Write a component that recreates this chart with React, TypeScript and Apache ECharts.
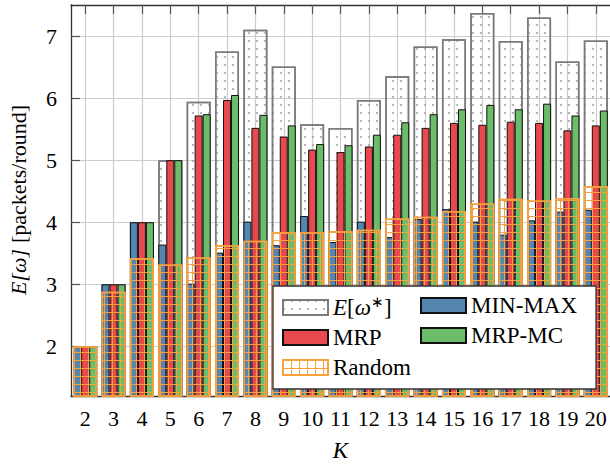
import React, { useEffect, useRef } from "react";
import * as echarts from "echarts";

const categories = ["2","3","4","5","6","7","8","9","10","11","12","13","14","15","16","17","18","19","20"];
const optimal = [2, 3, 4, 5, 5.94, 6.75, 7.10, 6.51, 5.58, 5.52, 5.97, 6.35, 6.83, 6.95, 7.37, 6.92, 7.30, 6.59, 6.93];
const minMax = [2, 3, 4, 3.64, 3.01, 3.51, 4.01, 3.63, 4.10, 3.68, 4.01, 3.76, 4.05, 4.21, 4.01, 3.80, 4.03, 4.17, 4.20];
const mrp = [2, 3, 4, 5, 5.72, 5.97, 5.52, 5.38, 5.17, 5.13, 5.22, 5.41, 5.52, 5.60, 5.57, 5.62, 5.60, 5.48, 5.56];
const mrpMc = [2, 3, 4, 5, 5.74, 6.05, 5.73, 5.56, 5.26, 5.24, 5.41, 5.61, 5.74, 5.82, 5.89, 5.82, 5.91, 5.72, 5.80];
const randomSel = [2, 2.88, 3.42, 3.32, 3.43, 3.63, 3.70, 3.84, 3.84, 3.86, 3.88, 4.06, 4.09, 4.18, 4.30, 4.38, 4.35, 4.39, 4.58];

const FONT = "Liberation Serif";
const BLUE = "#5585b1";
const RED = "#e8494d";
const GREEN = "#6cbd6a";
const ORANGE = "#f7a03c";

export default function App() {
  const ref = useRef<HTMLDivElement>(null);
  useEffect(() => {
    if (!ref.current) return;
    const chart = echarts.init(ref.current, null, { renderer: "svg" });
    const grid = { left: 71, right: -1.2, top: 5, bottom: 63 };
    const richText = {
      n: { fontFamily: FONT, fontSize: 23, color: "#000" },
      i: { fontFamily: FONT, fontStyle: "italic", fontSize: 23, color: "#000" },
      s: { fontFamily: FONT, fontSize: 15, color: "#000", padding: [0, 0, 12, 0] },
    };
    const legendCommon = {
      orient: "vertical",
      icon: "rect",
      itemWidth: 45,
      itemHeight: 15,
      itemGap: 7,
      z: 10,
      padding: 0,
      selectedMode: false,
      textStyle: { fontFamily: FONT, fontSize: 23, color: "#000", rich: richText },
      formatter: (name: string) => (name === "Eopt" ? "{i|E}{n|[}{i|ω}{s|∗}{n|]}" : "{n|" + name + "}"),
    };
    chart.setOption({
      animation: false,
      backgroundColor: "#fff",
      grid,
      xAxis: [
        {
          type: "category",
          data: categories,
          position: "bottom",
          axisLine: { show: true, lineStyle: { color: "#333", width: 1.3 } },
          axisTick: { show: false },
          axisLabel: { interval: 0, fontFamily: FONT, fontSize: 22, color: "#000", margin: 11 },
          splitLine: { show: true, alignWithLabel: true, lineStyle: { color: "#cccccc", width: 1.2 } },
          name: "K",
          nameLocation: "middle",
          nameGap: 43,
          nameTextStyle: { fontFamily: FONT, fontStyle: "italic", fontSize: 23, color: "#000" },
        },
        {
          type: "category",
          data: categories,
          position: "bottom",
          show: false,
        },
        {
          type: "category",
          data: categories,
          position: "top",
          axisLine: { show: true, lineStyle: { color: "#333", width: 1.3 } },
          axisTick: { show: true, inside: true, alignWithLabel: true, length: 9, lineStyle: { color: "#555", width: 1.2 } },
          axisLabel: { show: false },
          splitLine: { show: false },
        },
      ],
      yAxis: [
        {
          type: "value",
          min: 1.2,
          max: 7.5,
          axisLine: { show: true, lineStyle: { color: "#333", width: 1.3 } },
          axisTick: { show: true, inside: true, length: 9, lineStyle: { color: "#555", width: 1.2 } },
          axisLabel: {
            fontFamily: FONT,
            fontSize: 22,
            color: "#000",
            margin: 14,
            showMinLabel: false,
            showMaxLabel: false,
            formatter: (v: number) => (Math.abs(v - Math.round(v)) < 1e-6 ? String(Math.round(v)) : ""),
          },
          splitLine: { show: true, lineStyle: { color: "#cccccc", width: 1.2 } },
        },
      ],
      legend: [
        { ...legendCommon, left: 282, top: 294, data: ["Eopt", "MRP", "Random"] },
        { ...legendCommon, left: 420, top: 294, data: ["MIN-MAX", "MRP-MC"] },
      ],
      graphic: [
        {
          type: "rect",
          z: 5,
          shape: { x: 273, y: 286, width: 323, height: 103 },
          style: { fill: "#fff", stroke: "#333", lineWidth: 1.3 },
        },
        {
          type: "text",
          x: 18,
          y: 249,
          rotation: Math.PI / 2,
          style: {
            text: "E[ω]",
            fontFamily: FONT,
            fontStyle: "italic",
            fontSize: 22,
            fill: "#000",
            align: "right",
            verticalAlign: "middle",
          },
        },
        {
          type: "text",
          x: 18,
          y: 243,
          rotation: Math.PI / 2,
          style: {
            text: "[packets/round]",
            font: "normal 22px 'Liberation Serif'",
            fill: "#000",
            align: "left",
            verticalAlign: "middle",
          },
        },
      ],
      series: [
        {
          name: "Eopt",
          type: "bar",
          xAxisIndex: 0,
          data: optimal,
          barWidth: 24,
          barGap: "-100%",
          z: 2,
          itemStyle: {
            color: "rgba(255,255,255,0)",
            borderColor: "#7a7a7a",
            borderWidth: 1.5,
            decal: { symbol: "circle", symbolSize: 1, color: "#a8a8a8", dashArrayX: [2, 6], dashArrayY: [2, 6], rotation: 0 },
          },
        },
        {
          name: "MIN-MAX",
          type: "bar",
          xAxisIndex: 1,
          data: minMax,
          barWidth: 8,
          barGap: "0%",
          z: 3,
          itemStyle: { color: BLUE, borderColor: "#111", borderWidth: 1 },
        },
        {
          name: "MRP",
          type: "bar",
          xAxisIndex: 1,
          data: mrp,
          barWidth: 8,
          barGap: "0%",
          z: 3,
          itemStyle: { color: RED, borderColor: "#111", borderWidth: 1 },
        },
        {
          name: "MRP-MC",
          type: "bar",
          xAxisIndex: 1,
          data: mrpMc,
          barWidth: 8,
          barGap: "0%",
          z: 3,
          itemStyle: { color: GREEN, borderColor: "#111", borderWidth: 1 },
        },
        {
          name: "Random",
          type: "bar",
          xAxisIndex: 0,
          data: randomSel,
          barWidth: 24,
          barGap: "-100%",
          z: 4,
          itemStyle: {
            color: "rgba(255,255,255,0)",
            borderColor: ORANGE,
            borderWidth: 1.5,
            decal: {
              symbol: "rect",
              symbolSize: 1,
              color: ORANGE,
              dashArrayX: [[8, 0], [1, 7]],
              dashArrayY: [1, 0, 7, 0],
              rotation: 0,
            },
          },
        },
      ],
    });
    return () => chart.dispose();
  }, []);
  return <div ref={ref} style={{ position: "fixed", left: 0, top: 0, width: 610, height: 467 }} />;
}
